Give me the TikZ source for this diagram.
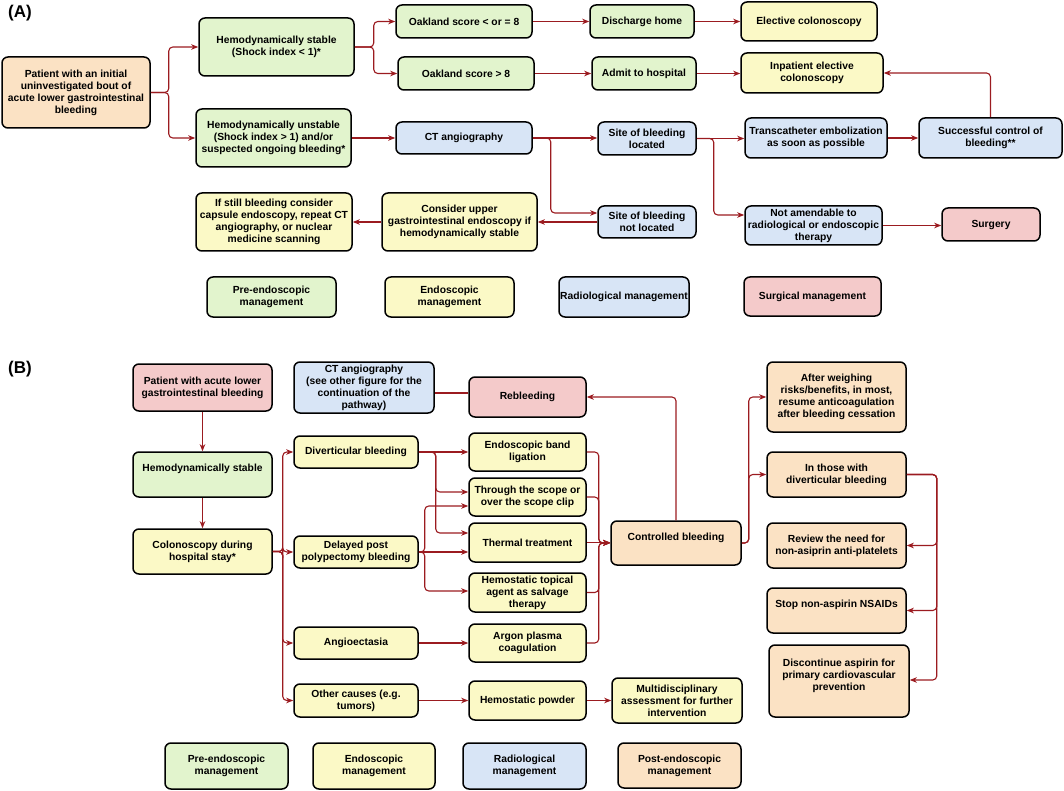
\documentclass[tikz,border=0pt]{standalone}
\usepackage{fontspec}
\setmainfont{Liberation Sans}
\usetikzlibrary{arrows.meta}
\definecolor{gfill}{HTML}{E2F4CD}
\definecolor{yfill}{HTML}{FBF9C6}
\definecolor{bfill}{HTML}{D8E5F6}
\definecolor{pfill}{HTML}{F4CACA}
\definecolor{ofill}{HTML}{FBE2C4}
\definecolor{lred}{HTML}{9B1B20}
\tikzset{
  box/.style={draw=black, line width=1.5pt, rounded corners=6pt, align=center, inner sep=1pt,
    font=\bfseries\fontsize{10.3}{12}\selectfont},
  gr/.style={box, fill=gfill},
  ye/.style={box, fill=yfill},
  bl/.style={box, fill=bfill},
  pk/.style={box, fill=pfill},
  pe/.style={box, fill=ofill},
  raised/.style={text depth=13pt},
  lab/.style={font=\bfseries\fontsize{17}{20}\selectfont, inner sep=0pt},
  conn/.style={draw=lred, line width=1.1pt, rounded corners=4pt, -{Stealth[length=7pt,width=5.5pt,inset=2pt]}},
  plainline/.style={draw=lred, line width=1.1pt, rounded corners=4pt}
}
\newcommand\mybox[7]{%
  \pgfmathsetmacro\mbW{#4-#2}\pgfmathsetmacro\mbH{#5-#3}%
  \pgfmathsetmacro\mbX{(#2+#4)/2}\pgfmathsetmacro\mbY{(#3+#5)/2}%
  \node[#6, minimum width=\mbW pt, minimum height=\mbH pt] (#1) at (\mbX,\mbY) {#7};}
\begin{document}
\begin{tikzpicture}[x=1pt,y=-1pt]
\useasboundingbox (0,0) rectangle (1064,791);
% ---------------- (A) ----------------
\node[lab] (labA) at (20,13) {(A)};
\mybox{pA}{2}{57}{150}{128}{pe}{Patient with an initial\\uninvestigated bout of\\acute lower gastrointestinal\\bleeding}
\mybox{hs}{199}{18}{354}{76}{gr}{Hemodynamically stable\\(Shock index < 1)*}
\mybox{hu}{196}{109}{351}{167}{gr}{Hemodynamically unstable\\(Shock index > 1) and/or\\suspected ongoing bleeding*}
\mybox{ok8}{396}{5}{532}{38}{gr}{Oakland score < or = 8}
\mybox{okg}{398}{57}{534}{90}{gr}{Oakland score > 8}
\mybox{dh}{590}{5}{694}{38}{gr}{Discharge home}
\mybox{adm}{592}{57}{696}{90}{gr}{Admit to hospital}
\mybox{ec}{741}{2}{877}{41}{ye}{Elective colonoscopy}
\mybox{inp}{741}{53}{883}{93}{ye}{Inpatient elective\\colonoscopy}
\mybox{ct}{396}{122}{532}{154}{bl}{CT angiography}
\mybox{sl}{598}{122}{696}{155}{bl}{Site of bleeding\\located}
\mybox{tc}{745}{118}{887}{158}{bl}{Transcatheter embolization\\as soon as possible}
\mybox{scb}{919}{118}{1062}{158}{bl}{Successful control of\\bleeding**}
\mybox{snl}{598}{206}{696}{238}{bl}{Site of bleeding\\not located}
\mybox{cu}{382}{193}{537}{251}{ye}{Consider upper\\gastrointestinal endoscopy if\\hemodynamically stable}
\mybox{ifs}{196}{193}{352}{251}{ye}{If still bleeding consider\\capsule endoscopy, repeat CT\\angiography, or nuclear\\medicine scanning}
\mybox{na}{745}{206}{882}{245}{bl}{Not amendable to\\radiological or endoscopic\\therapy}
\mybox{sur}{942}{208}{1040}{241}{pk}{Surgery}
\mybox{lA1}{207}{277}{336}{317}{gr}{Pre-endoscopic\\management}
\mybox{lA2}{385}{277}{514}{317}{ye}{Endoscopic\\management}
\mybox{lA3}{559}{277}{689}{317}{bl}{Radiological management}
\mybox{lA4}{744}{277}{881}{316}{pk}{Surgical management}
% connectors A
\draw[conn] (pA.east) -- ++(18,0) |- (hs.west);
\draw[conn] (pA.east) -- ++(18,0) |- (hu.west);
\draw[conn] (hs.east) -- ++(19,0) |- (ok8.west);
\draw[conn] (hs.east) -- ++(19,0) |- (okg.west);
\draw[conn] (ok8.east) -- (dh.west);
\draw[conn] (dh.east) -- (ec.west |- dh.east);
\draw[conn] (okg.east) -- (adm.west);
\draw[conn] (adm.east) -- (inp.west |- adm.east);
\draw[conn] (hu.east) -- (ct.west |- hu.east);
\draw[conn] (ct.east) -- (sl.west |- ct.east);
\draw[conn] (ct.east) -- ++(18,0) |- (snl.west |- 0,213);
\draw[conn] (sl.east) -- (tc.west |- sl.east);
\draw[conn] (sl.east) -- ++(17,0) |- (na.west |- 0,215);
\draw[conn] (tc.east) -- (scb.west |- tc.east);
\draw[conn] (scb.north) |- (inp.east);
\draw[conn] (na.east) -- (sur.west |- na.east);
\draw[conn] (snl.west) -- (cu.east |- snl.west);
\draw[conn] (cu.west) -- (ifs.east |- cu.west);
% ---------------- (B) ----------------
\node[lab] (labB) at (20,369) {(B)};
\mybox{pB}{133}{364}{272}{411}{pk}{Patient with acute lower\\gastrointestinal bleeding}
\mybox{hsB}{133}{452}{272}{497}{gr,raised}{Hemodynamically stable}
\mybox{col}{133}{529}{272}{574}{ye}{Colonoscopy during\\hospital stay*}
\mybox{ctB}{294}{362}{434}{413}{bl}{CT angiography\\(see other figure for the\\continuation of the\\pathway)}
\mybox{reb}{469}{377}{586}{417}{pk}{Rebleeding}
\mybox{div}{294}{436}{418}{468}{ye}{Diverticular bleeding}
\mybox{del}{294}{536}{418}{568}{ye}{Delayed post\\polypectomy bleeding}
\mybox{ang}{294}{627}{418}{659}{ye}{Angioectasia}
\mybox{oth}{294}{684}{418}{717}{ye}{Other causes (e.g.\\tumors)}
\mybox{band}{469}{433}{586}{471}{ye}{Endoscopic band\\ligation}
\mybox{tts}{469}{478}{586}{516}{ye}{Through the scope or\\over the scope clip}
\mybox{th}{469}{523}{586}{562}{ye}{Thermal treatment}
\mybox{topi}{469}{573}{586}{612}{ye}{Hemostatic topical\\agent as salvage\\therapy}
\mybox{arg}{469}{624}{586}{662}{ye}{Argon plasma\\coagulation}
\mybox{hp}{469}{681}{586}{720}{ye}{Hemostatic powder}
\mybox{md}{612}{678}{742}{723}{ye}{Multidisciplinary\\assessment for further\\intervention}
\mybox{cb}{611}{521}{741}{565}{pe,raised}{Controlled bleeding}
\mybox{aw}{767}{362}{906}{432}{pe}{After weighing\\risks/benefits, in most,\\resume anticoagulation\\after bleeding cessation}
\mybox{itw}{767}{452}{906}{497}{pe}{In those with\\diverticular bleeding}
\mybox{rn}{767}{523}{906}{568}{pe}{Review the need for\\non-asiprin anti-platelets}
\mybox{stp}{767}{588}{906}{633}{pe,raised}{Stop non-aspirin NSAIDs}
\mybox{dis}{769}{645}{909}{717}{pe,raised}{Discontinue aspirin for\\primary cardiovascular\\prevention}
\mybox{lB1}{165}{743}{288}{789}{gr}{Pre-endoscopic\\management}
\mybox{lB2}{313}{743}{435}{789}{ye}{Endoscopic\\management}
\mybox{lB3}{463}{743}{586}{789}{bl}{Radiological\\management}
\mybox{lB4}{618}{743}{741}{788}{pe}{Post-endoscopic\\management}
% connectors B
\draw[conn] (pB.south) -- (hsB.north);
\draw[conn] (hsB.south) -- (col.north);
\draw[conn] (col.east) -- ++(10,0) |- (div.west);
\draw[conn] (col.east) -- ++(10,0) |- (del.west);
\draw[conn] (col.east) -- ++(10,0) |- (ang.west);
\draw[conn] (col.east) -- ++(10,0) |- (oth.west);
\draw[conn] (div.east) -- (band.west |- div.east);
\draw[conn] (div.east) -- ++(17,0) |- (tts.west |- 0,492);
\draw[conn] (div.east) -- ++(17,0) |- (th.west |- 0,533);
\draw[conn] (del.east) -- ++(6,0) |- (tts.west |- 0,506);
\draw[conn] (del.east) -- (th.west |- del.east);
\draw[conn] (del.east) -- ++(6,0) |- (topi.west |- 0,591);
\draw[conn] (band.east) -- ++(12,0) |- (cb.west);
\draw[conn] (tts.east) -- ++(12,0) |- (cb.west);
\draw[conn] (th.east) -- (cb.west |- th.east);
\draw[conn] (topi.east) -- ++(12,0) |- (cb.west);
\draw[conn] (arg.east) -- ++(12,0) |- (cb.west);
\draw[conn] (ang.east) -- (arg.west |- ang.east);
\draw[conn] (oth.east) -- (hp.west |- oth.east);
\draw[conn] (hp.east) -- (md.west |- hp.east);
\draw[conn] (cb.north) |- (reb.east);
\draw[plainline] (reb.west |- 0,393) -- (ctB.east |- 0,393);
\draw[conn] (cb.east) -- ++(7,0) |- (aw.west);
\draw[conn] (cb.east) -- ++(7,0) |- (itw.west);
\draw[conn] (itw.east) -- ++(30,0) |- (rn.east);
\draw[conn] (itw.east) -- ++(30,0) |- (stp.east);
\draw[conn] (itw.east) -- ++(30,0) |- (dis.east |- 0,680);
\end{tikzpicture}
\end{document}
